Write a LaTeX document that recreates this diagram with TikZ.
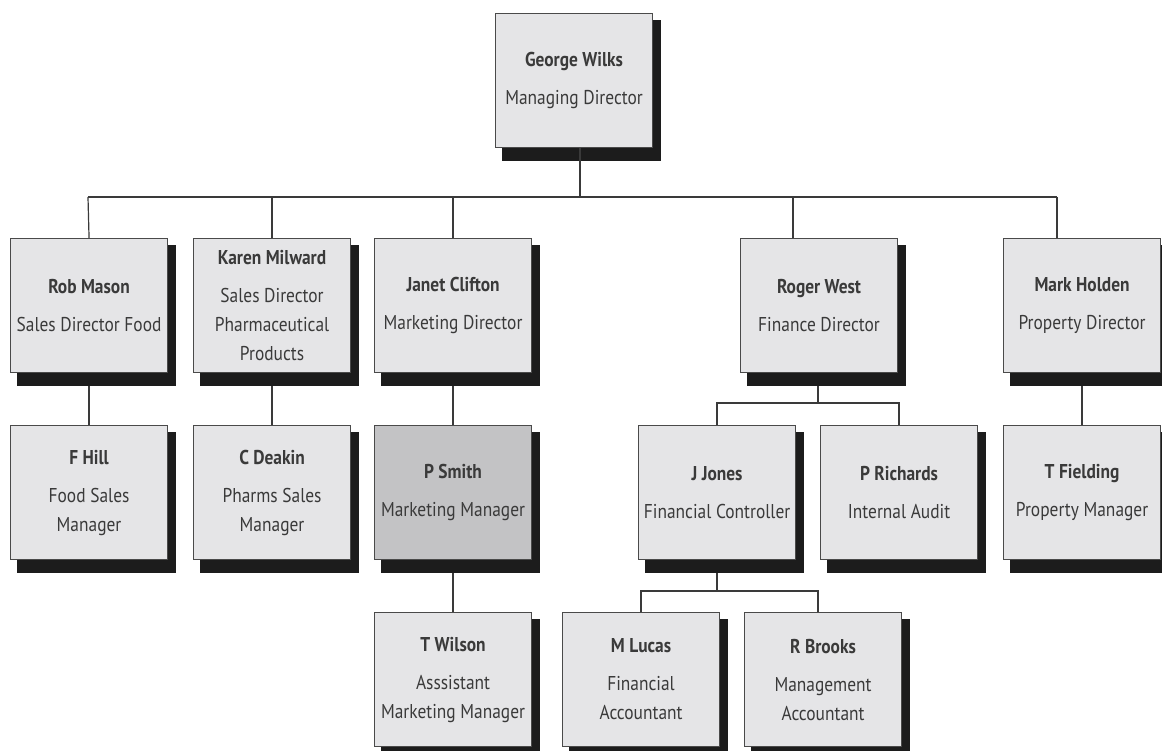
\documentclass[tikz,border=0pt]{standalone}
\usepackage{fontspec}
\setmainfont{PT Sans}[FakeStretch=0.87]
\definecolor{boxfill}{HTML}{E5E5E7}
\definecolor{boxdark}{HTML}{C3C3C5}
\definecolor{boxline}{HTML}{4A4A4A}
\definecolor{shadowcol}{HTML}{1C1C1C}
\definecolor{txt}{HTML}{3A3A3A}
\definecolor{linecol}{HTML}{3A3A3A}
\tikzset{
  orgbox/.style={draw=boxline, line width=1.1pt, fill=boxfill,
    minimum width=157pt, minimum height=134pt, inner sep=0pt,
    align=center, text=txt, anchor=north west,
    font=\fontsize{20}{29}\selectfont},
  darkbox/.style={orgbox, fill=boxdark},
  link/.style={draw=linecol, line width=1.2pt},
  shade/.style={fill=shadowcol}
}
\newcommand\boxshadow[1]{%
  \fill[shade] ([yshift=-7pt]#1.north east) rectangle ([xshift=8pt,yshift=-13pt]#1.south east);
  \fill[shade] ([xshift=7pt]#1.south west) rectangle ([xshift=8pt,yshift=-13pt]#1.south east);}
\newcommand\nm[1]{{\bfseries #1}\\[9pt]}
\begin{document}
\begin{tikzpicture}[x=1pt,y=-1pt]
\useasboundingbox (0,0) rectangle (1162,751);
\clip (0,0) rectangle (1162,751);
\fill[white] (0,0) rectangle (1162,751);

% coordinates for bus lines
\coordinate (gw) at (580,197);
\coordinate (busL) at (88,197);
\coordinate (rwc) at (793,197);
\coordinate (mhc) at (1057,197);
\coordinate (b2) at (818,403);
\coordinate (b3) at (717,591);
\coordinate (rbc) at (818,591);

% nodes
\node[orgbox] (george) at (495,13) {\nm{George Wilks}Managing Director};

\node[orgbox] (rob) at (10,238) {\nm{Rob Mason}Sales Director Food};
\node[orgbox] (karen) at (193,238) {\nm{Karen Milward}Sales Director\\Pharmaceutical\\Products};
\node[orgbox] (janet) at (374,238) {\nm{Janet Clifton}Marketing Director};
\node[orgbox] (roger) at (740,238) {\nm{Roger West}Finance Director};
\node[orgbox] (mark) at (1003,238) {\nm{Mark Holden}Property Director};

\node[orgbox] (fhill) at (10,425) {\nm{F Hill}Food Sales\\Manager};
\node[orgbox] (cdeakin) at (193,425) {\nm{C Deakin}Pharms Sales\\Manager};
\node[darkbox] (psmith) at (374,425) {\nm{P Smith}Marketing Manager};
\node[orgbox] (jjones) at (638,425) {\nm{J Jones}Financial Controller};
\node[orgbox] (prich) at (820,425) {\nm{P Richards}Internal Audit};
\node[orgbox] (tfield) at (1003,425) {\nm{T Fielding}Property Manager};

\node[orgbox] (twilson) at (374,612) {\nm{T Wilson}Asssistant\\Marketing Manager};
\node[orgbox] (mlucas) at (562,612) {\nm{M Lucas}Financial\\Accountant};
\node[orgbox] (rbrooks) at (744,612) {\nm{R Brooks}Management\\Accountant};

% shadows
\foreach \n in {george,rob,karen,janet,roger,mark,fhill,cdeakin,psmith,jjones,prich,tfield,twilson,mlucas,rbrooks}{\boxshadow{\n}}

% connectors
\draw[link] (gw |- george.south) -- (gw);
\draw[link] (busL) -- (mhc);
\draw[link] (busL) -- (rob.north);
\draw[link] (karen.north |- gw) -- (karen.north);
\draw[link] (janet.north |- gw) -- (janet.north);
\draw[link] (rwc) -- (rwc |- roger.north);
\draw[link] (mhc) -- (mhc |- mark.north);

\draw[link] ([yshift=-13pt]rob.south) -- (fhill.north);
\draw[link] ([yshift=-13pt]karen.south) -- (cdeakin.north);
\draw[link] ([yshift=-13pt]janet.south) -- (psmith.north);
\draw[link] ([yshift=-13pt]psmith.south) -- (twilson.north);
\draw[link] ([yshift=-13pt]mark.south) -- (tfield.north);

\draw[link] ([yshift=-13pt]roger.south -| b2) -- (b2);
\draw[link] (jjones.north) |- (b2) -| (prich.north);

\draw[link] ([yshift=-13pt]jjones.south -| b3) -- (b3);
\draw[link] (mlucas.north) |- (rbc) -- (rbc |- rbrooks.north);
\end{tikzpicture}
\end{document}
